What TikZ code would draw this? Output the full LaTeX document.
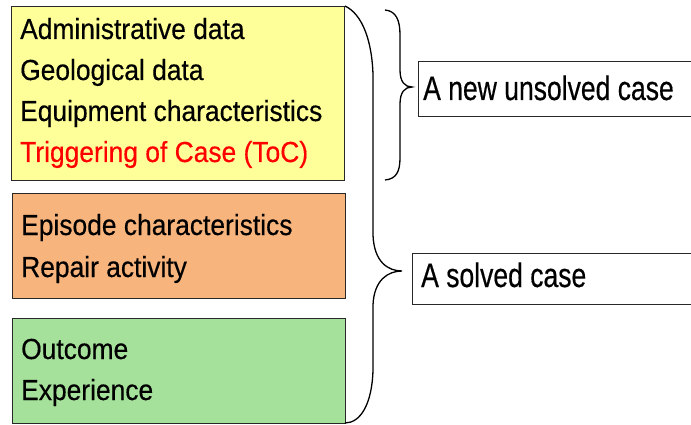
\documentclass[tikz,border=0pt]{standalone}
\usepackage{fontspec}
\newfontfamily\leftfont[FakeStretch=0.91,FakeBold=0.4]{Liberation Sans}
\newfontfamily\rightfont[FakeStretch=0.78,FakeBold=0.4]{Liberation Sans}
\definecolor{yel}{RGB}{255,255,153}
\definecolor{ora}{RGB}{247,180,125}
\definecolor{gre}{RGB}{165,225,155}
\definecolor{edge}{RGB}{40,40,40}
\begin{document}
\begin{tikzpicture}[x=1pt,y=-1pt,
  panel/.style={draw=edge,line width=1pt},
  ltext/.style={anchor=base west,inner sep=0pt,font=\leftfont\fontsize{29}{29}\selectfont},
  rtext/.style={anchor=base west,inner sep=0pt,font=\rightfont\fontsize{34}{34}\selectfont},
  brace/.style={draw=black,line width=1.3pt}]
\useasboundingbox (0,0) rectangle (691,425);
\fill[white] (0,0) rectangle (691,425);
\begin{scope}
\clip (0,0) rectangle (691,425);
% left panels
\path[panel,fill=yel] (11,7) rectangle (344,181);
\path[panel,fill=ora] (12,193) rectangle (345,298);
\path[panel,fill=gre] (12,318) rectangle (345,423);
\node[ltext] (t1) at (20,39) {Administrative data};
\node[ltext] (t2) at (20,80) {Geological data};
\node[ltext] (t3) at (20,121) {Equipment characteristics};
\node[ltext,text=red] (t4) at (20,162) {Triggering of Case (ToC)};
\node[ltext] (t5) at (21,235) {Episode characteristics};
\node[ltext] (t6) at (21,277) {Repair activity};
\node[ltext] (t7) at (21,359) {Outcome};
\node[ltext] (t8) at (21,400) {Experience};
% right boxes
\path[panel,fill=white] (418,62) rectangle (700,117);
\path[panel,fill=white] (412,253) rectangle (700,304);
\node[rtext] (r1) at (423,100) {A new unsolved case};
\node[rtext] (r2) at (421,287) {A solved case};
% big brace
\draw[brace] (345,6) .. controls (362,14) and (372,40) .. (373,75)
  -- (373,235) .. controls (374,262) and (388,271) .. (402,271)
  .. controls (388,271) and (374,280) .. (373,305)
  -- (373,370) .. controls (372,405) and (360,423) .. (345,423);
% small brace
\draw[brace] (385,10) .. controls (396,11) and (400,20) .. (400,35)
  -- (400,70) .. controls (400,82) and (405,87) .. (412,87)
  .. controls (405,87) and (400,92) .. (400,104)
  -- (400,158) .. controls (400,172) and (396,179) .. (385,180);
\end{scope}
\end{tikzpicture}
\end{document}
